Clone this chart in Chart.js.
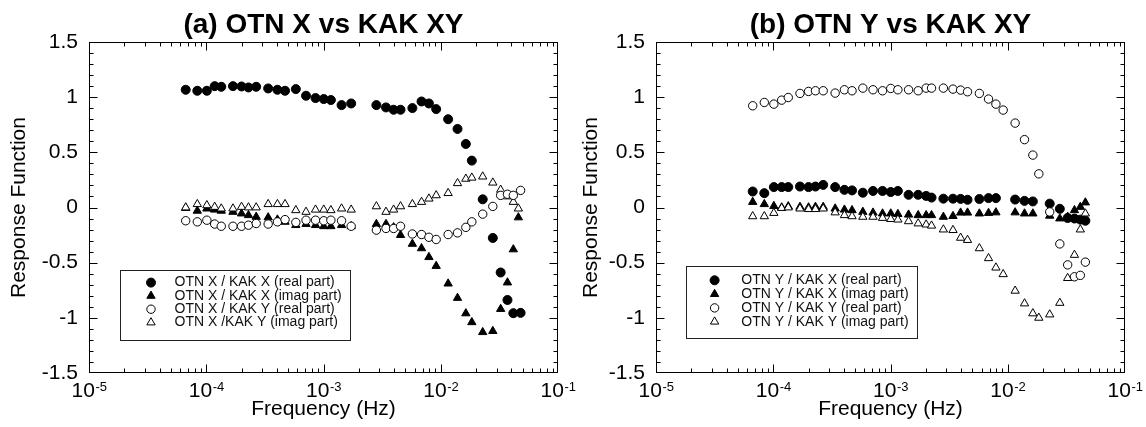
<!DOCTYPE html>
<html>
<head>
<meta charset="utf-8">
<script src="https://cdn.jsdelivr.net/npm/chart.js@4.4.1/dist/chart.umd.min.js"></script>
<style>
  html, body { margin: 0; padding: 0; background: #fff; }
  #wrap { position: relative; width: 1146px; height: 427px; overflow: hidden; background: #fff; }
  #wrap canvas { position: absolute; left: 0; top: 0; }
</style>
</head>
<body>
<div id="wrap">
  <canvas id="panelA" width="1146" height="427" style="width:1146px;height:427px"></canvas>
  <canvas id="panelB" width="1146" height="427" style="width:1146px;height:427px"></canvas>
</div>
<script>
// Frequencies (Hz) shared by both panels; null marks a frequency with no sample.
const freqHz = [6.68e-5, 8.39e-5, 1.012e-4, 1.18e-4, 1.343e-4, 1.69e-4, 2.0e-4, 2.291e-4, 2.667e-4, 3.373e-4,
  4.046e-4, 4.699e-4, 5.808e-4, 7.096e-4, 8.551e-4, 1.005e-3, 1.156e-3, 1.426e-3, 1.722e-3, 2.014e-3,
  2.239e-3, 2.825e-3, 3.412e-3, 3.963e-3, 4.539e-3, 5.728e-3, 6.855e-3, 7.925e-3, 9.141e-3, 1.156e-2,
  1.39e-2, 1.637e-2, 1.841e-2, 2.28e-2, 2.78e-2, 3.243e-2, 3.707e-2, 4.159e-2, 4.592e-2, 4.797e-2];

// Panel (a): OTN X against KAK X / KAK Y
const otnX_kakX_real = [1.067, 1.058, 1.058, 1.100, 1.094, 1.100, 1.097, 1.088, 1.094, 1.079,
  1.067, 1.058, 1.073, 1.013, 0.992, 0.983, 0.974, 0.928, 0.943, null,
  null, 0.928, 0.907, 0.886, 0.886, 0.901, 0.961, 0.943, 0.892, 0.800,
  0.712, 0.576, 0.425, 0.074, -0.276, -0.589, -0.838, -0.958, null, -0.955];
const otnX_kakX_imag = [-0.005, -0.03, -0.01, -0.02, -0.03, -0.04, -0.055, -0.07, -0.085, -0.09,
  -0.11, -0.13, -0.16, -0.15, -0.16, -0.17, -0.17, -0.16, -0.17, null,
  null, -0.15, -0.15, -0.18, -0.25, -0.33, -0.37, -0.45, -0.53, -0.69,
  -0.82, -0.96, -1.04, -1.13, -1.12, -0.92, -0.68, -0.38, -0.09, null];
const otnX_kakY_real = [-0.12, -0.13, -0.115, -0.15, -0.17, -0.17, -0.17, -0.16, -0.145, -0.15,
  -0.13, -0.11, -0.135, -0.115, -0.115, -0.12, -0.115, -0.12, -0.17, null,
  null, -0.205, -0.19, -0.19, -0.17, -0.24, -0.245, -0.27, -0.29, -0.245,
  -0.23, -0.18, -0.13, -0.06, 0.01, 0.11, 0.12, 0.11, null, 0.155];
const otnX_kakY_imag = [0.0, 0.03, 0.02, 0.005, -0.01, -0.01, 0.005, 0.0, 0.0, 0.03,
  0.03, 0.03, -0.025, -0.04, -0.02, -0.02, -0.025, -0.01, -0.02, null,
  null, 0.01, -0.04, -0.02, 0.01, 0.03, 0.05, 0.08, 0.11, 0.13,
  0.22, 0.26, 0.27, 0.28, 0.225, 0.16, 0.10, 0.05, -0.01, null];

// Panel (b): OTN Y against KAK X / KAK Y
const otnY_kakX_real = [0.145, 0.13, 0.185, 0.185, 0.185, 0.19, 0.185, 0.19, 0.205, 0.185,
  0.16, 0.155, 0.134, 0.15, 0.15, 0.14, 0.15, 0.115, 0.115, 0.105,
  0.09, 0.08, 0.08, 0.078, 0.07, 0.077, 0.085, 0.085, null, 0.072,
  0.06, 0.055, null, 0.035, -0.012, -0.095, -0.10, -0.11, -0.12, null];
const otnY_kakX_imag = [0.05, 0.03, 0.013, 0.0, 0.01, 0.005, 0.0, 0.005, 0.005, -0.01,
  -0.02, -0.025, -0.04, -0.047, -0.055, -0.055, -0.06, -0.065, -0.07, -0.07,
  -0.07, -0.085, -0.078, -0.047, -0.047, -0.055, -0.05, -0.045, null, -0.045,
  -0.055, -0.055, null, -0.075, -0.1, -0.085, -0.025, 0.005, 0.045, null];
const otnY_kakY_real = [0.922, 0.952, 0.937, 0.973, 0.997, 1.034, 1.052, 1.058, 1.058, 1.037,
  1.067, 1.058, 1.082, 1.067, 1.058, 1.079, 1.067, 1.067, 1.058, 1.082,
  1.082, 1.082, 1.073, 1.064, 1.049, 1.034, 0.983, 0.937, 0.883, 0.765,
  0.615, 0.475, 0.305, -0.04, -0.33, -0.52, -0.628, -0.615, -0.495, null];
const otnY_kakY_imag = [-0.08, -0.08, -0.05, -0.005, 0.0, -0.01, -0.015, -0.015, -0.01, -0.045,
  -0.07, -0.08, -0.085, -0.085, -0.095, -0.105, -0.11, -0.125, -0.145, -0.155,
  -0.165, -0.20, -0.205, -0.275, -0.295, -0.37, -0.46, -0.545, -0.605, -0.755,
  -0.87, -0.96, -1.00, -0.97, -0.865, -0.64, -0.43, -0.20, -0.055, null];

// Axis tick labels
const decadeValues = [1e-5, 1e-4, 1e-3, 1e-2, 1e-1];
const decadeExponents = ['-5', '-4', '-3', '-2', '-1'];
const yTickValues = [-1.5, -1, -0.5, 0, 0.5, 1, 1.5];

const FONT = '"Liberation Sans", Arial, Helvetica, sans-serif';

const MARKERS = {
  filledCircle:   { style: 'circle',   radius: 4.5, fill: '#000', open: false },
  filledTriangle: { style: 'triangle', radius: 4.8, fill: '#000', open: false },
  openCircle:     { style: 'circle',   radius: 4.2, fill: '#fff', open: true },
  openTriangle:   { style: 'triangle', radius: 4.8, fill: '#fff', open: true }
};

function toPoints(values) {
  const pts = [];
  freqHz.forEach((f, i) => { if (values[i] !== null) pts.push({ x: f, y: values[i] }); });
  return pts;
}

// Draws the boxed frame with inward ticks, the power-of-ten labels and the in-plot legend.
const frameAndLegend = {
  id: 'frameAndLegend',
  afterDraw(chart, args, opts) {
    const { ctx, chartArea, scales } = chart;
    const xs = scales.x, ys = scales.y;
    const L = Math.round(chartArea.left) + 0.5, R = Math.round(chartArea.right) - 0.5;
    const T = Math.round(chartArea.top) + 0.5, B = Math.round(chartArea.bottom) - 0.5;
    ctx.save();
    ctx.strokeStyle = '#000';
    ctx.lineWidth = 1;
    ctx.strokeRect(L, T, R - L, B - T);

    ctx.beginPath();
    for (let e = -5; e <= -2; e++) {
      for (let m = 1; m <= 9; m++) {
        if (m === 1 && e === -5) continue;
        const px = Math.round(xs.getPixelForValue(m * Math.pow(10, e))) + 0.5;
        const len = m === 1 ? 8 : 4;
        ctx.moveTo(px, B); ctx.lineTo(px, B - len);
        ctx.moveTo(px, T); ctx.lineTo(px, T + len);
      }
    }
    for (let k = -14; k <= 14; k++) {
      const py = Math.round(ys.getPixelForValue(k / 10)) + 0.5;
      const len = k % 5 === 0 ? 8 : 4;
      ctx.moveTo(L, py); ctx.lineTo(L + len, py);
      ctx.moveTo(R, py); ctx.lineTo(R - len, py);
    }
    ctx.stroke();

    // x tick labels: "10" with a raised exponent
    ctx.fillStyle = '#000';
    ctx.textBaseline = 'alphabetic';
    ctx.textAlign = 'left';
    decadeValues.forEach((v, i) => {
      const px = xs.getPixelForValue(v);
      ctx.font = '21px ' + FONT;
      const wBase = ctx.measureText('10').width;
      ctx.font = '13px ' + FONT;
      const wExp = ctx.measureText(decadeExponents[i]).width;
      const x0 = px - (wBase + wExp) / 2;
      ctx.font = '21px ' + FONT;
      ctx.fillText('10', x0, opts.labelBaseline);
      ctx.font = '13px ' + FONT;
      ctx.fillText(decadeExponents[i], x0 + wBase + 0.5, opts.labelBaseline - 6);
    });

    // legend
    const lg = opts.legend;
    ctx.strokeStyle = '#222';
    ctx.strokeRect(Math.round(lg.x) + 0.5, Math.round(lg.y) + 0.5, lg.w, lg.h);
    ctx.font = '14px ' + FONT;
    ctx.textBaseline = 'middle';
    ctx.textAlign = 'left';
    chart.data.datasets.forEach((ds) => {
      const y = lg.firstRow + ds.legendRow * lg.rowStep;
      const mk = ds.marker;
      ctx.fillStyle = mk.fill;
      ctx.strokeStyle = '#000';
      ctx.lineWidth = 1;
      Chart.helpers.drawPoint(ctx, { pointStyle: mk.style, radius: mk.radius, rotation: 0, borderWidth: 1 }, lg.markerX, y);
      ctx.fillStyle = '#111';
      ctx.fillText(ds.label, lg.textX, y);
    });
    ctx.restore();
  }
};

function buildPanel(canvasId, cfg) {
  const datasets = cfg.series.map((s, row) => {
    const mk = MARKERS[s.marker];
    return {
      label: s.label,
      data: toPoints(s.values),
      marker: mk,
      legendRow: row,
      order: mk.open ? 0 : 1,
      showLine: false,
      pointStyle: mk.style,
      pointRadius: mk.radius,
      pointHoverRadius: mk.radius,
      pointBackgroundColor: mk.fill,
      pointBorderColor: '#000',
      pointBorderWidth: 1
    };
  });
  return new Chart(document.getElementById(canvasId), {
    type: 'scatter',
    data: { datasets },
    options: {
      responsive: false,
      animation: false,
      devicePixelRatio: 1,
      events: [],
      layout: { padding: { left: cfg.padLeft, right: cfg.padRight, top: 0, bottom: 0 } },
      plugins: {
        legend: { display: false },
        tooltip: { enabled: false },
        title: {
          display: true, text: cfg.title, fullSize: false, color: '#000',
          font: { family: FONT, size: 28, weight: 'bold', lineHeight: 1.2 },
          padding: { top: 8, bottom: 0.4 }
        },
        frameAndLegend: { labelBaseline: 397, legend: cfg.legend }
      },
      scales: {
        x: {
          type: 'logarithmic', min: 1e-5, max: 1e-1,
          grid: { display: false, drawTicks: false },
          border: { display: false },
          ticks: { display: false },
          title: { display: true, text: 'Frequency (Hz)', color: '#000',
                   font: { family: FONT, size: 21, lineHeight: 1.2 }, padding: { top: 0, bottom: 5 } },
          afterFit(s) { s.height = 54; }
        },
        y: {
          type: 'linear', min: -1.5, max: 1.5,
          grid: { display: false, drawTicks: false },
          border: { display: false },
          afterBuildTicks(s) { s.ticks = yTickValues.map(v => ({ value: v })); },
          ticks: {
            color: '#000', padding: 11, autoSkip: false,
            font: { family: FONT, size: 21 },
            callback: v => String(Math.round(v * 10) / 10)
          },
          title: { display: true, text: 'Response Function', color: '#000',
                   font: { family: FONT, size: 21, lineHeight: 1.2 }, padding: { top: cfg.yTitlePad, bottom: 0 } },
          afterFit(s) { s.width = cfg.yAxisWidth; }
        }
      }
    },
    plugins: [frameAndLegend]
  });
}

buildPanel('panelA', {
  title: '(a) OTN X vs KAK XY',
  padLeft: 0, padRight: 588, yAxisWidth: 89, yTitlePad: 7,
  legend: { x: 120, y: 269.5, w: 230, h: 70, markerX: 151, textX: 174.5, firstRow: 282.6, rowStep: 13.3 },
  series: [
    { label: 'OTN X / KAK X (real part)', values: otnX_kakX_real, marker: 'filledCircle' },
    { label: 'OTN X / KAK X (imag part)', values: otnX_kakX_imag, marker: 'filledTriangle' },
    { label: 'OTN X / KAK Y (real part)', values: otnX_kakY_real, marker: 'openCircle' },
    { label: 'OTN X /KAK Y (imag part)',  values: otnX_kakY_imag, marker: 'openTriangle' }
  ]
});

buildPanel('panelB', {
  title: '(b) OTN Y vs KAK XY',
  padLeft: 573, padRight: 21, yAxisWidth: 83, yTitlePad: 6,
  legend: { x: 685.6, y: 266, w: 231, h: 72, markerX: 714.6, textX: 741.3, firstRow: 280.3, rowStep: 13.8 },
  series: [
    { label: 'OTN Y / KAK X (real part)', values: otnY_kakX_real, marker: 'filledCircle' },
    { label: 'OTN Y / KAK X (imag part)', values: otnY_kakX_imag, marker: 'filledTriangle' },
    { label: 'OTN Y / KAK Y (real part)', values: otnY_kakY_real, marker: 'openCircle' },
    { label: 'OTN Y / KAK Y (imag part)', values: otnY_kakY_imag, marker: 'openTriangle' }
  ]
});
</script>
</body>
</html>
